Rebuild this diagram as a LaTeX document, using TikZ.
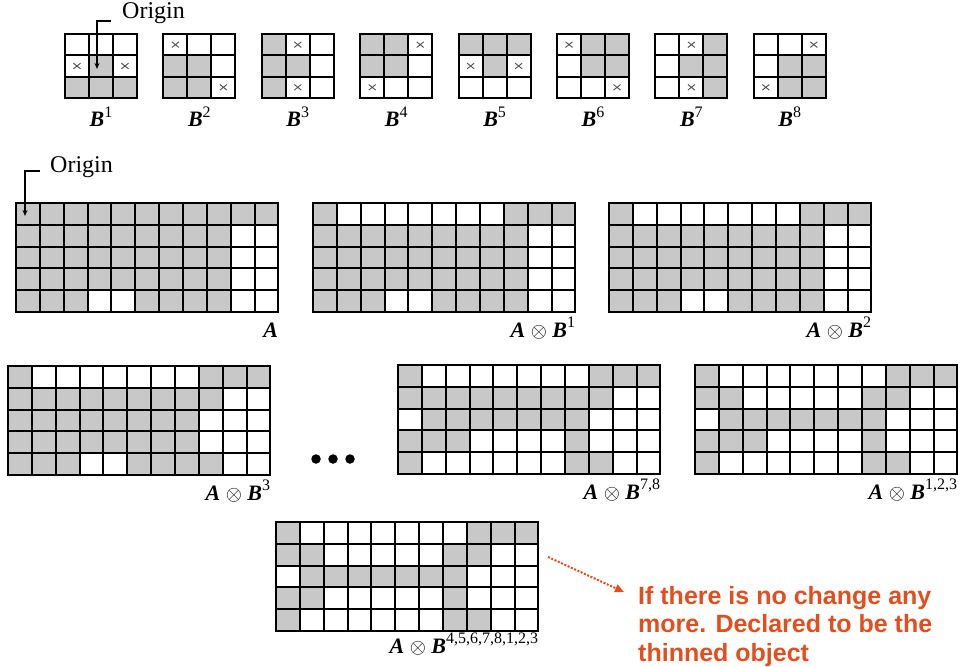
\documentclass[tikz,border=0pt]{standalone}
\usepackage{fontspec}
\usepackage{graphicx}
\setmainfont{Liberation Serif}
\newfontfamily\notefont{Liberation Sans}
\usetikzlibrary{arrows.meta}
\definecolor{cellgray}{RGB}{200,200,200}
\definecolor{notered}{RGB}{226,78,30}
\definecolor{xgray}{RGB}{80,80,80}
\def\gcw{23.85}
\def\gch{21.8}
\def\scw{24}
\def\sch{21.33}
\newcommand{\bigcells}[4]{%
  \foreach \rowlist [count=\ri from 0] in {#4} {
    \foreach \cv [count=\ci from 0] in \rowlist {
      \ifnum\cv=1 \fill[cellgray] ({#2+\ci*\gcw},{#3+\ri*\gch}) rectangle ++(\gcw,\gch);\fi
    }
  }
  \foreach \ci in {0,...,11} \draw[gline] ({#2+\ci*\gcw},#3) -- ++(0,{5*\gch});
  \foreach \ri in {0,...,5} \draw[gline] (#2,{#3+\ri*\gch}) -- ++({11*\gcw},0);
  \node[inner sep=0, minimum width=262.35pt, minimum height=109pt, anchor=north west] (#1) at (#2,#3) {};
}
\newcommand{\smallcells}[4]{%
  \foreach \rowlist [count=\ri from 0] in {#4} {
    \foreach \cv [count=\ci from 0] in \rowlist {
      \ifnum\cv=1 \fill[cellgray] ({#2+\ci*\scw},{#3+\ri*\sch}) rectangle ++(\scw,\sch);\fi
      \ifnum\cv=2 \draw[xmark] ({#2+(\ci+0.5)*\scw-3.5},{#3+(\ri+0.5)*\sch-2.8}) -- ++(7,5.6) ++(-7,0) -- ++(7,-5.6);\fi
    }
  }
  \foreach \ci in {0,...,3} \draw[gline] ({#2+\ci*\scw},#3) -- ++(0,{3*\sch});
  \foreach \ri in {0,...,3} \draw[gline] (#2,{#3+\ri*\sch}) -- ++({3*\scw},0);
  \node[inner sep=0, minimum width=72pt, minimum height=64pt, anchor=north west] (#1) at (#2,#3) {};
}
\newcommand{\letA}{\textbf{\textit{A}}}
\newcommand{\letB}{\textbf{\textit{B}}}
\newcommand{\supr}[1]{\raisebox{0.42em}{\fontsize{16}{16}\selectfont #1}}
\newcommand{\AoB}[1]{\letA\ $\otimes$\ \letB\supr{#1}}
\begin{document}
\begin{tikzpicture}[x=1pt,y=-1pt,
  gline/.style={line width=2pt, line cap=rect, black},
  xmark/.style={line width=0.9pt, xgray},
  lab/.style={font=\fontsize{22}{26}\selectfont, inner sep=0, anchor=base east},
  blab/.style={font=\fontsize{22}{26}\selectfont, inner sep=0, anchor=base},
  origtext/.style={font=\fontsize{24}{28}\selectfont, inner sep=0, anchor=base west},
  origarrow/.style={line width=1.1pt, -{Stealth[length=6pt,width=5pt]}},
  note/.style={font=\notefont\bfseries\fontsize{25}{28.5}\selectfont, text=notered, align=left, inner sep=0, anchor=north west},
  notearrow/.style={notered, line width=2pt, dash pattern=on 2pt off 1.6pt, -{Triangle[length=9pt,width=8pt]}},
  dot/.style={circle, fill=black, inner sep=0, minimum size=9.5pt}]
\useasboundingbox (0,0) rectangle (960,666);

% structuring elements
\smallcells{b1}{65}{34}{{0,0,0},{2,1,2},{1,1,1}}
\smallcells{b2}{163.4}{34}{{2,0,0},{1,1,0},{1,1,2}}
\smallcells{b3}{261.8}{34}{{1,2,0},{1,1,0},{1,2,0}}
\smallcells{b4}{360.2}{34}{{1,1,2},{1,1,0},{2,0,0}}
\smallcells{b5}{458.6}{34}{{1,1,1},{2,1,2},{0,0,0}}
\smallcells{b6}{557}{34}{{2,1,1},{0,1,1},{0,0,2}}
\smallcells{b7}{655.4}{34}{{0,2,1},{0,1,1},{0,2,1}}
\smallcells{b8}{753.8}{34}{{0,0,2},{0,1,1},{2,1,1}}
\foreach \n/\xc in {1/101,2/199.4,3/297.8,4/396.2,5/494.6,6/593,7/691.4,8/789.8}
  \node[blab] (lb\n) at (\xc,127) {\letB\supr{\n}};

% origin of B1
\node[origtext] (o1) at (122,19) {Origin};
\coordinate (tip1) at (97,69);
\draw[origarrow] ([xshift=-11pt,yshift=-2pt]o1.base west) -| (tip1);

% row 1
\bigcells{ga}{16}{203}{{1,1,1,1,1,1,1,1,1,1,1},{1,1,1,1,1,1,1,1,1,0,0},{1,1,1,1,1,1,1,1,1,0,0},{1,1,1,1,1,1,1,1,1,0,0},{1,1,1,0,0,1,1,1,1,0,0}}
\bigcells{gab1}{313}{203}{{1,0,0,0,0,0,0,0,1,1,1},{1,1,1,1,1,1,1,1,1,0,0},{1,1,1,1,1,1,1,1,1,0,0},{1,1,1,1,1,1,1,1,1,0,0},{1,1,1,0,0,1,1,1,1,0,0}}
\bigcells{gab2}{609}{203}{{1,0,0,0,0,0,0,0,1,1,1},{1,1,1,1,1,1,1,1,1,0,0},{1,1,1,1,1,1,1,1,1,0,0},{1,1,1,1,1,1,1,1,1,0,0},{1,1,1,0,0,1,1,1,1,0,0}}
\node[origtext] (o2) at (50,172) {Origin};
\coordinate (tip2) at (25,216);
\draw[origarrow] ([xshift=-10pt,yshift=1pt]o2.base west) -| (tip2);
\node[lab] (la) at (278.35,337) {\letA};
\node[lab] (lab1) at (575.35,337) {\AoB{1}};
\node[lab] (lab2) at (871.35,337) {\AoB{2}};

% row 2
\bigcells{gab3}{8}{366}{{1,0,0,0,0,0,0,0,1,1,1},{1,1,1,1,1,1,1,1,1,0,0},{1,1,1,1,1,1,1,1,0,0,0},{1,1,1,1,1,1,1,1,0,0,0},{1,1,1,0,0,1,1,1,1,0,0}}
\bigcells{gab78}{398}{365}{{1,0,0,0,0,0,0,0,1,1,1},{1,1,1,1,1,1,1,1,1,0,0},{0,1,1,1,1,1,1,1,0,0,0},{1,1,1,0,0,0,0,1,0,0,0},{1,0,0,0,0,0,0,1,1,0,0}}
\bigcells{gab123}{695}{365}{{1,0,0,0,0,0,0,0,1,1,1},{1,1,0,0,0,0,0,1,1,0,0},{0,1,1,1,1,1,1,1,0,0,0},{1,1,1,0,0,0,0,1,0,0,0},{1,0,0,0,0,0,0,1,1,0,0}}
\node[lab] (lab3) at (270.35,500) {\AoB{3}};
\node[lab] (lab78) at (660.35,499) {\AoB{7,8}};
\node[lab] (lab123) at (957.35,499) {\AoB{1,2,3}};
\node[dot] (d1) at (316,459) {};
\node[dot] (d2) at (333,459) {};
\node[dot] (d3) at (350,459) {};

% final
\bigcells{gfin}{276}{522}{{1,0,0,0,0,0,0,0,1,1,1},{1,1,0,0,0,0,0,1,1,0,0},{0,1,1,1,1,1,1,1,0,0,0},{1,1,0,0,0,0,0,1,0,0,0},{1,0,0,0,0,0,0,1,1,0,0}}
\node[lab] (labfin) at (538.35,653) {\AoB{4,5,6,7,8,1,2,3}};

% note
\node[note] (note) at (638,586) {If there is no change any\\more. Declared to be the\\thinned object};
\coordinate (arrowstart) at (548,557);
\coordinate (arrowend) at (624,592);
\draw[notearrow] (arrowstart) -- (arrowend);
\end{tikzpicture}
\end{document}
